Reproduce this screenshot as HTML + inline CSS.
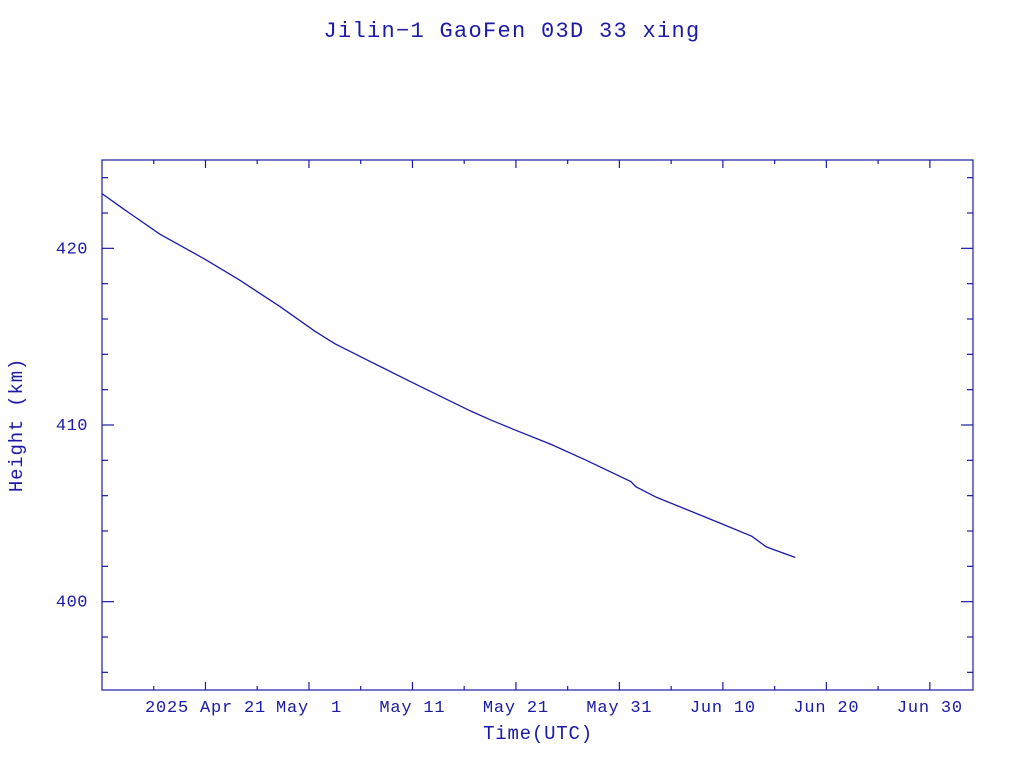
<!DOCTYPE html>
<html><head><meta charset="utf-8"><style>
body{margin:0;background:#fff;}
svg text{font-family:"Liberation Mono","DejaVu Sans Mono",monospace;fill:#1a1aa6;}
</style></head><body>
<svg id="chart" width="1024" height="768" xmlns="http://www.w3.org/2000/svg">
<text x="512" y="37" text-anchor="middle" font-size="22" letter-spacing="1.3">Jilin−1 GaoFen 03D 33 xing</text>
<text x="538" y="739" text-anchor="middle" font-size="19" letter-spacing="0.8">Time(UTC)</text>
<text transform="translate(22,425) rotate(-90)" text-anchor="middle" font-size="19" letter-spacing="0.8">Height (km)</text>
<rect x="102" y="160" width="871" height="530" fill="none" stroke="#1a1aa6" stroke-width="1.2"/>
<g id="ticks"></g>
<path id="line" fill="none" stroke="#1a1aa6" stroke-width="1.3"/>
</svg>
<script>
// days since 2025-04-11
const dayValues = [0,1.9,5.6,9.9,13.3,17.2,20.6,22.5,25.9,30,35.6,37.5,40,43.4,46.8,51.1,51.6,53.6,57,59.9,62.8,64.2,67];
const heightValues = [423.1,422.3,420.8,419.4,418.2,416.7,415.3,414.6,413.6,412.4,410.8,410.3,409.7,408.9,408.0,406.8,406.5,405.9,405.1,404.4,403.7,403.1,402.5];
const xTickDays = [10,20,30,40,50,60,70,80];
const xTickLabels = ["2025 Apr 21","May  1","May 11","May 21","May 31","Jun 10","Jun 20","Jun 30"];
const yTickValues = [400,410,420];
const yTickLabels = ["400","410","420"];
const X0=102,X1=973,Y0=690,Y1=160;
const dMin=0,dMax=84.17,hMin=395,hMax=425;
const sx=d=>X0+(d-dMin)/(dMax-dMin)*(X1-X0);
const sy=h=>Y0-(h-hMin)/(hMax-hMin)*(Y0-Y1);
const NS="http://www.w3.org/2000/svg";
const g=document.getElementById('ticks');
function ln(x1,y1,x2,y2,name){const l=document.createElementNS(NS,'line');
l.setAttribute('x1',x1);l.setAttribute('y1',y1);l.setAttribute('x2',x2);l.setAttribute('y2',y2);
l.setAttribute('stroke','#1a1aa6');l.setAttribute('stroke-width','1.2');


g.appendChild(l);}
function tx(x,y,s,anchor,name,ls){const t=document.createElementNS(NS,'text');
t.setAttribute('x',x);t.setAttribute('y',y);t.setAttribute('text-anchor',anchor);t.setAttribute('font-size','17');
t.setAttribute('letter-spacing',ls);
t.textContent=s;t.setAttribute('xml:space','preserve');t.style.whiteSpace='pre';


g.appendChild(t);}
for(let d=5;d<dMax;d+=5){const x=sx(d);const L=(d%10===0)?8:4;
ln(x,Y0,x,Y0-L,'x-tick');ln(x,Y1,x,Y1+L,'x-tick');}
xTickDays.forEach((d,i)=>tx(sx(d),712,xTickLabels[i],'middle','x-tick-label','0.8'));
for(let h=396;h<hMax;h+=2){const y=sy(h);const L=(h%10===0)?12:6;
ln(X0,y,X0+L,y,'y-tick');ln(X1,y,X1-L,y,'y-tick');}
yTickValues.forEach((v,i)=>tx(88,sy(v)+5,yTickLabels[i],'end','y-tick-label','0.5'));
document.getElementById('line').setAttribute('d',dayValues.map((d,i)=>(i?'L':'M')+sx(d).toFixed(1)+','+sy(heightValues[i]).toFixed(1)).join(''));
</script>
</body></html>
